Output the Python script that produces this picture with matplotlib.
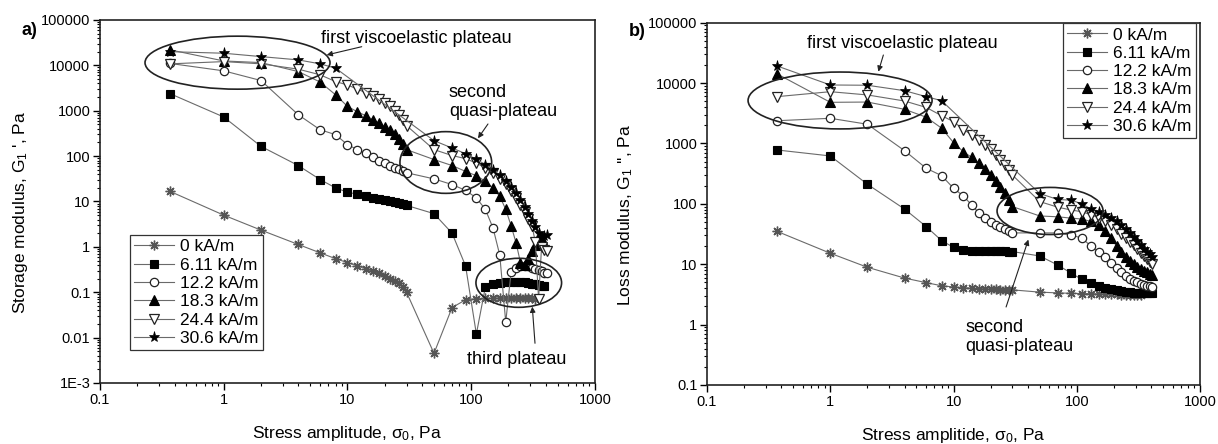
import matplotlib
matplotlib.use('Agg')
import matplotlib.pyplot as plt
from matplotlib.patches import Ellipse
from matplotlib.ticker import FixedLocator, FixedFormatter, LogLocator, NullFormatter

plt.rcParams['font.family'] = ['Liberation Sans', 'DejaVu Sans']
plt.rcParams['mathtext.fontset'] = 'custom'
plt.rcParams['mathtext.rm'] = 'Liberation Sans'
plt.rcParams['mathtext.it'] = 'Liberation Sans:italic'
plt.rcParams['mathtext.bf'] = 'Liberation Sans:bold'

# ---------------- data ----------------
stress_low = [0.37, 1, 2, 4, 6, 8, 10, 12, 14, 16, 18, 20, 22, 24, 26, 28, 30]
stress_high = [50, 70, 90, 110, 130, 150, 170, 190, 210, 230, 250, 270, 290, 310, 330, 350, 370, 390, 410]

labels = ['0 kA/m', '6.11 kA/m', '12.2 kA/m', '18.3 kA/m', '24.4 kA/m', '30.6 kA/m']

# Storage modulus G1' (panel a)
Gs_0_low = [16.6, 5.0, 2.34, 1.13, 0.74, 0.55, 0.45, 0.38, 0.33, 0.29, 0.26, 0.23, 0.2, 0.18, 0.16, 0.13, 0.1]
Gs_0_high = [0.0045, 0.046, 0.068, 0.072, 0.073, 0.074, 0.074, 0.075, 0.075, 0.075, 0.074, 0.074, 0.073, 0.073, 0.072]
Gs_611_low = [2366, 727, 164, 62, 30.5, 20, 16, 14.5, 13.2, 12.2, 11.4, 10.8, 10.2, 9.7, 9.2, 8.7, 8.2]
Gs_611_high = [5.4, 2.0, 0.38, 0.012, 0.13, 0.15, 0.16, 0.165, 0.17, 0.17, 0.17, 0.165, 0.16, 0.155, 0.15, 0.145, 0.14, 0.135]
Gs_122_low = [11000, 7570, 4630, 817, 382, 297, 179, 139, 115, 95, 80, 70, 62, 56, 51, 47, 43]
Gs_122_high = [31.5, 23.6, 17.6, 12, 6.7, 2.6, 0.66, 0.022, 0.28, 0.34, 0.37, 0.38, 0.37, 0.35, 0.33, 0.31, 0.29, 0.27, 0.26]
Gs_183_low = [21900, 12500, 11500, 7300, 4300, 2250, 1245, 950, 780, 640, 530, 440, 370, 300, 240, 185, 139]
Gs_183_high = [84, 62, 46, 37, 28, 20, 13, 6.7, 2.9, 1.24, 0.45, 0.4, 0.55, 0.8, 1.1, 1.4, 1.5]
Gs_244_low = [10800, 12100, 10800, 8250, 6200, 4400, 3700, 3000, 2500, 2100, 1800, 1500, 1250, 1000, 800, 630, 470]
Gs_244_high = [139, 103, 88, 70, 55, 42, 32, 24, 17, 12, 8.5, 6, 4.2, 2.9, 1.25, 0.07, 1.0, 0.85, 0.8]
Gs_306_low = [20000, 18500, 15600, 13200, 10800, 8700]
Gs_306_high = [219, 151, 113, 85, 65, 50, 38, 28, 21, 15, 11, 7.5, 5.4, 3.8, 2.7, 2.0, 1.6, 1.7, 1.8]

# Loss modulus G1'' (panel b)
Gl_0_low = [35, 15.2, 8.9, 5.9, 4.95, 4.4, 4.2, 4.1, 4.0, 3.95, 3.9, 3.85, 3.82, 3.8, 3.78, 3.77, 3.76]
Gl_0_high = [3.45, 3.35, 3.3, 3.27, 3.25, 3.22, 3.2, 3.18, 3.17, 3.15, 3.14, 3.13, 3.12, 3.11, 3.1]
Gl_611_low = [780, 621, 211, 82, 42, 24.6, 19, 17, 16.8, 16.6, 16.5, 16.4, 16.4, 16.3, 16.3, 16.2, 16.2]
Gl_611_high = [13.7, 9.7, 7.1, 5.6, 4.8, 4.4, 4.1, 3.9, 3.75, 3.6, 3.5, 3.45, 3.4, 3.35, 3.3, 3.3, 3.3, 3.3, 3.3]
Gl_122_low = [2380, 2610, 2080, 760, 388, 293, 181, 135, 96, 71, 58, 50, 45, 41, 38, 35, 33]
Gl_122_high = [33, 33, 30.5, 27, 20, 16, 13, 10.5, 8.8, 7.5, 6.5, 5.8, 5.3, 5.0, 4.7, 4.5, 4.4, 4.3, 4.2]
Gl_183_low = [14200, 4800, 4850, 3680, 2720, 1790, 1030, 731, 590, 470, 380, 300, 240, 190, 150, 115, 90]
Gl_183_high = [63, 61, 58, 56, 51, 45, 36, 27, 20, 16, 13, 11.5, 10, 9, 8.3, 7.8, 7.5, 7, 6.6]
Gl_244_low = [5960, 7200, 6360, 5050, 3950, 2880, 2300, 1700, 1400, 1150, 950, 800, 650, 540, 440, 360, 300]
Gl_244_high = [109, 88, 79, 74, 66, 59, 51, 44, 38, 32, 27, 23.5, 20.5, 18, 15.5, 13.5, 12, 11, 10.2]
Gl_306_low = [19200, 9300, 9200, 7480, 5960, 5110]
Gl_306_high = [148, 118, 115, 100, 82, 74, 66, 58, 51, 44, 38, 33, 28.5, 24.5, 21, 18, 16, 14.5, 13.4]

x_ticks = [0.1, 1, 10, 100, 1000]
x_ticklabels = ['0.1', '1', '10', '100', '1000']
ya_ticks = [1e-3, 0.01, 0.1, 1, 10, 100, 1000, 10000, 100000]
ya_ticklabels = ['1E-3', '0.01', '0.1', '1', '10', '100', '1000', '10000', '100000']
yb_ticks = [0.1, 1, 10, 100, 1000, 10000, 100000]
yb_ticklabels = ['0.1', '1', '10', '100', '1000', '10000', '100000']

# ---------------- styles ----------------
LINE_C = '#6a6a6a'
styles = [
    dict(marker=(8, 2, 0), ms=7, mfc='#777777', mec='#555555', mew=1.0),
    dict(marker='s', ms=5.5, mfc='black', mec='black', mew=0.8),
    dict(marker='o', ms=6, mfc='white', mec='#222222', mew=0.9),
    dict(marker='^', ms=6.5, mfc='black', mec='black', mew=0.8),
    dict(marker='v', ms=6.5, mfc='white', mec='#222222', mew=0.9),
    dict(marker='*', ms=8, mfc='black', mec='black', mew=0.5),
]

fig = plt.figure(figsize=(12.18, 4.44), dpi=100)
axA = fig.add_axes([0.0821, 0.1374, 0.4064, 0.8176])
axB = fig.add_axes([0.5805, 0.1329, 0.4048, 0.816])

def series_xy(low, high):
    xs = stress_low[:len(low)] + stress_high[:len(high)]
    ys = list(low) + list(high)
    return xs, ys

seriesA = [(Gs_0_low, Gs_0_high), (Gs_611_low, Gs_611_high), (Gs_122_low, Gs_122_high),
           (Gs_183_low, Gs_183_high), (Gs_244_low, Gs_244_high), (Gs_306_low, Gs_306_high)]
seriesB = [(Gl_0_low, Gl_0_high), (Gl_611_low, Gl_611_high), (Gl_122_low, Gl_122_high),
           (Gl_183_low, Gl_183_high), (Gl_244_low, Gl_244_high), (Gl_306_low, Gl_306_high)]

def setup(ax, yt, ytl, ylim, ylabel, xlabel):
    ax.set_xscale('log')
    ax.set_yscale('log')
    ax.set_xlim(0.1, 1000)
    ax.set_ylim(*ylim)
    ax.xaxis.set_major_locator(FixedLocator(x_ticks))
    ax.xaxis.set_major_formatter(FixedFormatter(x_ticklabels))
    ax.yaxis.set_major_locator(FixedLocator(yt))
    ax.yaxis.set_major_formatter(FixedFormatter(ytl))
    ax.xaxis.set_minor_locator(LogLocator(base=10, subs=range(2, 10), numticks=20))
    ax.yaxis.set_minor_locator(LogLocator(base=10, subs=range(2, 10), numticks=20))
    ax.xaxis.set_minor_formatter(NullFormatter())
    ax.yaxis.set_minor_formatter(NullFormatter())
    ax.tick_params(which='major', direction='out', length=5, width=1.0, labelsize=10.5, pad=2)
    ax.tick_params(which='minor', direction='out', length=2.5, width=0.8)
    for s in ax.spines.values():
        s.set_linewidth(1.2)
        s.set_color('#222222')
    ax.set_ylabel(ylabel, fontsize=12.5)
    ax.set_xlabel(xlabel, fontsize=12.5)

for ax, ser in ((axA, seriesA), (axB, seriesB)):
    for (low, high), st, lab in zip(ser, styles, labels):
        xs, ys = series_xy(low, high)
        ax.plot(xs, ys, color=LINE_C, lw=0.8, marker=st['marker'], ms=st['ms'],
                mfc=st['mfc'], mec=st['mec'], mew=st['mew'], label=lab)

setup(axA, ya_ticks, ya_ticklabels, (1e-3, 1e5), "Storage modulus, G$_1$ ', Pa", "Stress amplitude, σ$_0$, Pa")
setup(axB, yb_ticks, yb_ticklabels, (0.1, 1e5), "Loss modulus, G$_1$ '', Pa", "Stress amplitide, σ$_0$, Pa")
axA.yaxis.set_label_coords(-0.142, 0.47)
axB.yaxis.set_label_coords(-0.146, 0.47)
axA.xaxis.set_label_coords(0.5, -0.112)
axB.xaxis.set_label_coords(0.5, -0.112)

leg_kw = dict(fontsize=12.5, frameon=True, fancybox=False, framealpha=1, edgecolor='#333333',
              handlelength=2.3, handletextpad=0.35, labelspacing=0.18, borderpad=0.25,
              borderaxespad=0.0)
lgA = axA.legend(loc='upper left', bbox_to_anchor=(0.0606, 0.4077), **leg_kw)
lgB = axB.legend(loc='upper right', bbox_to_anchor=(0.992, 0.999), **leg_kw)
for lg in (lgA, lgB):
    lg.get_frame().set_linewidth(0.9)

# ---------------- annotations ----------------
def ell(ax, cx, cy, w, h, angle=0):
    ax.add_patch(Ellipse((cx, cy), w, h, angle=angle, transform=ax.transAxes,
                         fill=False, ec='#222222', lw=1.2, zorder=5))

def arrow(ax, x0, y0, x1, y1):
    ax.annotate('', xy=(x1, y1), xycoords='axes fraction', xytext=(x0, y0),
                textcoords='axes fraction',
                arrowprops=dict(arrowstyle='-|>', lw=0.8, color='#222222', mutation_scale=8,
                                shrinkA=0, shrinkB=0))

# panel a
ell(axA, 0.2778, 0.8824, 0.3737, 0.146)
ell(axA, 0.6986, 0.6074, 0.1853, 0.17)
ell(axA, 0.846, 0.276, 0.173, 0.135)
axA.text(0.640, 0.9496, 'first viscoelastic plateau', transform=axA.transAxes,
         ha='center', va='center', fontsize=13)
arrow(axA, 0.5287, 0.9264, 0.458, 0.9036)
axA.text(0.705, 0.775, 'second\nquasi-plateau', transform=axA.transAxes,
         ha='left', va='center', fontsize=13, linespacing=1.15)
arrow(axA, 0.7838, 0.7135, 0.7636, 0.6741)
axA.text(0.8418, 0.0634, 'third plateau', transform=axA.transAxes,
         ha='center', va='center', fontsize=13)
arrow(axA, 0.8788, 0.1094, 0.8733, 0.2102)

# panel b
ell(axB, 0.2698, 0.7853, 0.3732, 0.157)
ell(axB, 0.6957, 0.4803, 0.215, 0.13)
axB.text(0.3966, 0.943, 'first viscoelastic plateau', transform=axB.transAxes,
         ha='center', va='center', fontsize=13)
arrow(axB, 0.3576, 0.9108, 0.3475, 0.8648)
axB.text(0.5233, 0.1319, 'second\nquasi-plateau', transform=axB.transAxes,
         ha='left', va='center', fontsize=13, linespacing=1.15)
arrow(axB, 0.6065, 0.2153, 0.6517, 0.4013)

fig.text(0.0238, 0.932, 'a)', fontsize=13, fontweight='bold', ha='center', va='center')
fig.text(0.523, 0.930, 'b)', fontsize=13, fontweight='bold', ha='center', va='center')

fig.savefig('out.png', dpi=100)
